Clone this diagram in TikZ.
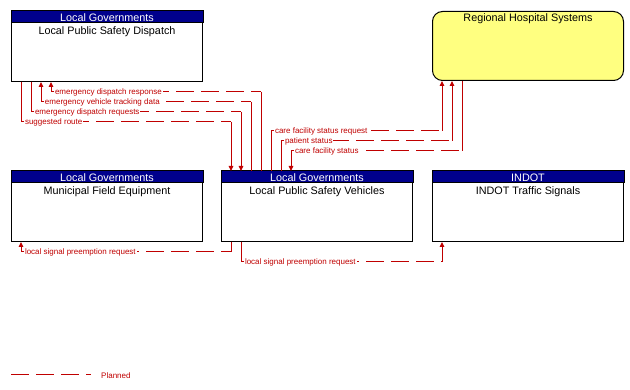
\documentclass[tikz,border=0pt]{standalone}
\usepackage{fontspec}
\setmainfont{Liberation Sans}
\usetikzlibrary{arrows.meta}
\definecolor{flowred}{RGB}{192,0,0}
\definecolor{headblue}{RGB}{0,0,140}
\definecolor{hospyellow}{RGB}{255,255,128}
\newcommand\sysbox[5]{%
  \node[box] (#1) at (#2,#3) {};
  \filldraw[fill=headblue,draw=black,line width=1pt] (#1.north west) rectangle ([yshift=-12pt]#1.north east);
  \node[headtxt] (#1h) at ([yshift=-10.8pt]#1.north) {#4};
  \node[titletxt] (#1t) at ([yshift=-23.3pt]#1.north) {#5};
}
\newcommand\flowconn[7]{%
  \path #2 coordinate (#1a) ++(#3) coordinate (#1b) #4 coordinate (#1d) (#1b -| #1d) coordinate (#1c);
  \draw[solidflow,#5] (#1a) -- (#1b);
  \draw[dashflow] (#1b) -- (#1c);
  \draw[solidflow,#6] (#1c) -- (#1d);
  \node[lbl] (#1l) at ([xshift=3pt]#1b) {#7};
}
\begin{document}
\begin{tikzpicture}[x=1pt,y=-1pt,
  box/.style={draw=black,line width=1pt,minimum width=191pt,minimum height=70pt,inner sep=0pt,anchor=north west,fill=white},
  headtxt/.style={text=white,font=\fontsize{10.8}{12}\selectfont,anchor=base,inner sep=0pt},
  titletxt/.style={text=black,font=\fontsize{10.8}{12}\selectfont,anchor=base,inner sep=0pt},
  solidflow/.style={draw=flowred,line width=1pt},
  dashflow/.style={draw=flowred,line width=1pt,dash pattern=on 18pt off 7pt},
  tipend/.style={-{Triangle[length=5pt,width=4.5pt]}},
  tipstart/.style={{Triangle[length=5pt,width=4.5pt]}-},
  lbl/.style={anchor=west,text=flowred,font=\fontsize{8}{9}\selectfont,fill=white,inner sep=0.8pt}]
\useasboundingbox (0,0) rectangle (630,390);
\sysbox{lpsd}{11}{11}{Local Governments}{Local Public Safety Dispatch}
\sysbox{mfe}{11}{171}{Local Governments}{Municipal Field Equipment}
\sysbox{lpsv}{221}{171}{Local Governments}{Local Public Safety Vehicles}
\sysbox{indot}{432}{171}{INDOT}{INDOT Traffic Signals}
\node[box,fill=hospyellow,rounded corners=10pt,minimum height=69pt] (rhs) at (432,11) {};
\node[titletxt] (rhst) at ([yshift=-11pt]rhs.north) {Regional Hospital Systems};
% connectors
\flowconn{c1}{([xshift=10pt]lpsd.south west)}{0,40}{([xshift=10pt]lpsv.north west)}{}{tipend}{suggested route}
\flowconn{c2}{([xshift=20pt]lpsd.south west)}{0,30}{([xshift=20pt]lpsv.north west)}{}{tipend}{emergency dispatch requests}
\flowconn{c3}{([xshift=30pt]lpsd.south west)}{0,20}{([xshift=30pt]lpsv.north west)}{tipstart}{}{emergency vehicle tracking data}
\flowconn{c4}{([xshift=40pt]lpsd.south west)}{0,10}{([xshift=40pt]lpsv.north west)}{tipstart}{}{emergency dispatch response}
\flowconn{c5}{([xshift=50pt]lpsv.north west)}{0,-40}{([xshift=10pt]rhs.south west)}{}{tipend}{care facility status request}
\flowconn{c6}{([xshift=60pt]lpsv.north west)}{0,-30}{([xshift=20pt]rhs.south west)}{}{tipend}{patient status}
\flowconn{c7}{([xshift=70pt]lpsv.north west)}{0,-20}{([xshift=30pt]rhs.south west)}{tipstart}{}{care facility status}
\flowconn{c8}{([xshift=10pt]mfe.south west)}{0,10}{([xshift=10pt]lpsv.south west)}{tipstart}{}{local signal preemption request}
\flowconn{c9}{([xshift=20pt]lpsv.south west)}{0,20}{([xshift=10pt]indot.south west)}{}{tipend}{local signal preemption request}
% legend
\coordinate (lg1) at (11,375);
\coordinate (lg2) at (91,375);
\draw[dashflow] (lg1) -- (lg2);
\node[anchor=west,text=flowred,font=\fontsize{8}{9}\selectfont,inner sep=0pt] (planned) at (101,376) {Planned};
\end{tikzpicture}
\end{document}
